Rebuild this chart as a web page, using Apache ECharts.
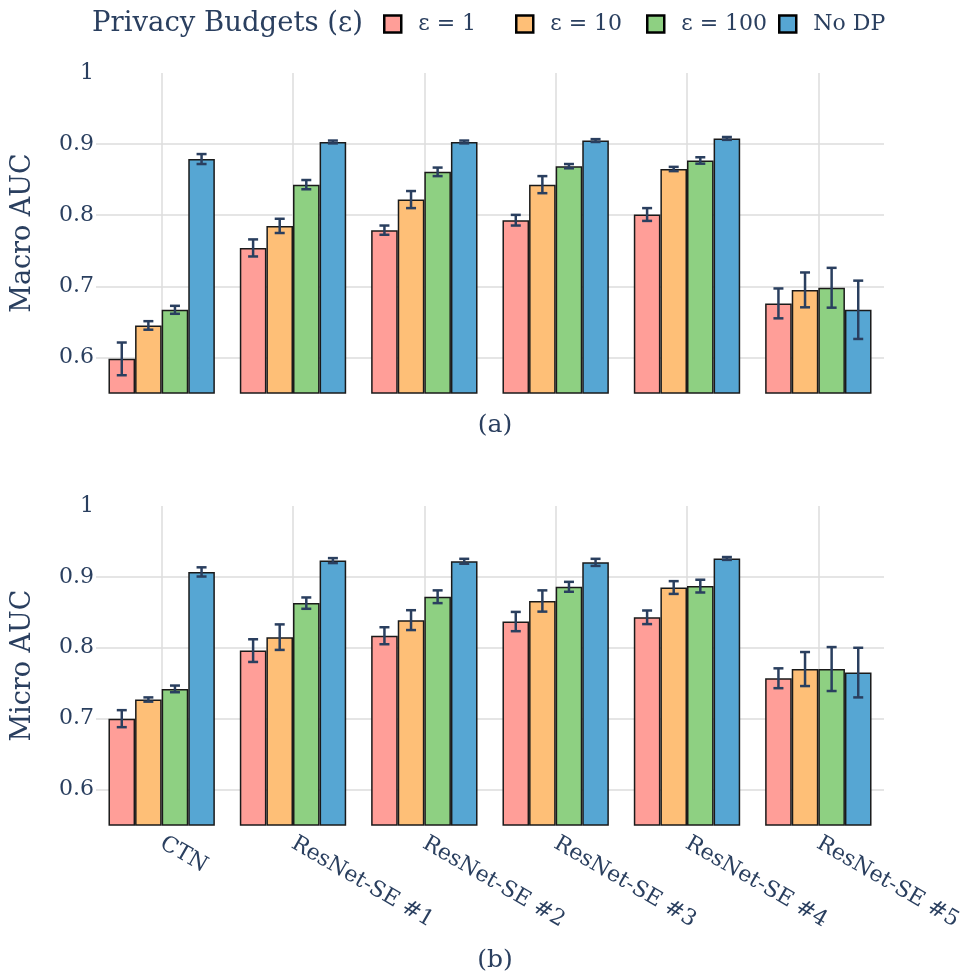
<!DOCTYPE html>
<html><head><meta charset="utf-8">
<script src="https://cdn.jsdelivr.net/npm/echarts@6/dist/echarts.min.js"></script>
<style>html,body{margin:0;padding:0;background:#fff}#c{width:960px;height:974px}</style>
</head><body><div id="c"></div>
<script>
const categories = ['CTN', 'ResNet-SE #1', 'ResNet-SE #2', 'ResNet-SE #3', 'ResNet-SE #4', 'ResNet-SE #5'];
const seriesNames = ['ε = 1', 'ε = 10', 'ε = 100', 'No DP'];
const colors = ['#FF9E98', '#FEBF77', '#8ED082', '#56A6D3'];
const yTicks = [0.6, 0.7, 0.8, 0.9, 1];

// Macro AUC (a)
const macroEps1 = [0.598, 0.754, 0.779, 0.793, 0.801, 0.676];
const macroEps10 = [0.645, 0.785, 0.822, 0.843, 0.865, 0.695];
const macroEps100 = [0.667, 0.843, 0.861, 0.869, 0.877, 0.698];
const macroNoDP = [0.879, 0.903, 0.903, 0.905, 0.908, 0.667];
const macroEps1Err = [0.023, 0.012, 0.0065, 0.0075, 0.009, 0.021];
const macroEps10Err = [0.006, 0.010, 0.012, 0.012, 0.003, 0.0245];
const macroEps100Err = [0.0056, 0.0065, 0.006, 0.003, 0.0045, 0.028];
const macroNoDPErr = [0.007, 0.002, 0.002, 0.002, 0.002, 0.041];

// Micro AUC (b)
const microEps1 = [0.700, 0.796, 0.817, 0.837, 0.843, 0.757];
const microEps10 = [0.727, 0.815, 0.839, 0.866, 0.885, 0.770];
const microEps100 = [0.742, 0.863, 0.872, 0.886, 0.887, 0.770];
const microNoDP = [0.907, 0.923, 0.922, 0.9205, 0.926, 0.765];
const microEps1Err = [0.012, 0.016, 0.012, 0.0136, 0.0096, 0.014];
const microEps10Err = [0.003, 0.018, 0.014, 0.015, 0.009, 0.024];
const microEps100Err = [0.0047, 0.008, 0.009, 0.007, 0.009, 0.031];
const microNoDPErr = [0.0065, 0.0035, 0.0035, 0.005, 0.002, 0.035];

const macroVals = [macroEps1, macroEps10, macroEps100, macroNoDP];
const macroErrs = [macroEps1Err, macroEps10Err, macroEps100Err, macroNoDPErr];
const microVals = [microEps1, microEps10, microEps100, microNoDP];
const microErrs = [microEps1Err, microEps10Err, microEps100Err, microNoDPErr];

const FONT = 'DejaVu Serif';
const TXT = '#2a3f5f';
const GRID = '#dcdcdc';
const CAT_GAP = 0.19;

function errRenderer(k) {
  return function (params, api) {
    const xi = api.value(0), v = api.value(1), e = api.value(2);
    const band = api.size([1, 0])[0];
    const bw = band * (1 - CAT_GAP) / 4;
    const cx = api.coord([xi, v])[0] + (k - 1.5) * bw;
    const top = api.coord([xi, v + e])[1];
    const bot = api.coord([xi, v - e])[1];
    const cap = 5;
    const st = { stroke: TXT, lineWidth: 2.5 };
    return {
      type: 'group', children: [
        { type: 'line', shape: { x1: cx, y1: top, x2: cx, y2: bot }, style: st },
        { type: 'line', shape: { x1: cx - cap, y1: top, x2: cx + cap, y2: top }, style: st },
        { type: 'line', shape: { x1: cx - cap, y1: bot, x2: cx + cap, y2: bot }, style: st }
      ]
    };
  };
}

const series = [];
[[macroVals, macroErrs], [microVals, microErrs]].forEach(function (pair, gi) {
  const vals = pair[0], errs = pair[1];
  seriesNames.forEach(function (name, k) {
    series.push({
      type: 'bar', name: name, xAxisIndex: gi, yAxisIndex: gi,
      data: vals[k], barGap: '0%', barCategoryGap: (CAT_GAP * 100) + '%',
      itemStyle: { color: colors[k], borderColor: '#1a1a1a', borderWidth: 1.5 },
      emphasis: { disabled: true }, z: 2
    });
  });
  seriesNames.forEach(function (name, k) {
    series.push({
      type: 'custom', name: name + ' err', xAxisIndex: gi, yAxisIndex: gi,
      renderItem: errRenderer(k), encode: { x: 0, y: 1 },
      data: vals[k].map(function (v, i) { return [i, v, errs[k][i]]; }),
      z: 5, silent: true
    });
  });
});

function xAxis(gi, showLabels) {
  return {
    type: 'category', gridIndex: gi, data: categories,
    axisLine: { show: false }, axisTick: { show: false },
    splitLine: { show: true, alignWithLabel: true, lineStyle: { color: GRID, width: 1.5 } },
    axisLabel: {
      show: showLabels, interval: 0, rotate: -30, margin: 17,
      fontFamily: FONT, fontSize: 22, color: TXT
    }
  };
}
function yAxis(gi, name) {
  return {
    type: 'value', gridIndex: gi, min: 0.55, max: 1,
    name: name, nameLocation: 'middle', nameGap: 60,
    nameTextStyle: { fontFamily: FONT, fontSize: 27, color: TXT },
    axisLine: { show: false }, axisTick: { show: false, customValues: yTicks },
    axisLabel: { customValues: yTicks, margin: 2, fontFamily: FONT, fontSize: 22, color: TXT },
    splitLine: { show: true, showMaxLine: false, lineStyle: { color: GRID, width: 1.5 } }
  };
}

const legends = [383, 515, 646, 778].map(function (left, k) {
  return {
    left: left, top: 13, padding: 0, itemWidth: 17, itemHeight: 17,
    data: [seriesNames[k]], icon: 'rect', selectedMode: false,
    itemStyle: { borderColor: '#000', borderWidth: 2.5 },
    textStyle: { fontFamily: FONT, fontSize: 22, color: TXT, padding: [0, 0, 0, 12] }
  };
});

const chart = echarts.init(document.getElementById('c'), null, { renderer: 'canvas' });
chart.setOption({
  animation: false,
  backgroundColor: '#fff',
  title: [
    { text: 'Privacy Budgets (ε)', left: 87, top: 5, textStyle: { fontFamily: FONT, fontSize: 27.5, fontWeight: 'normal', color: TXT } },
    { text: '(a)', left: 490, top: 408, textAlign: 'center', textStyle: { fontFamily: FONT, fontSize: 25, fontWeight: 'normal', color: TXT } },
    { text: '(b)', left: 490, top: 943, textAlign: 'center', textStyle: { fontFamily: FONT, fontSize: 25, fontWeight: 'normal', color: TXT } }
  ],
  legend: legends,
  grid: [
    { left: 96, width: 788, top: 73, height: 320, outerBoundsMode: 'none', containLabel: false },
    { left: 96, width: 788, top: 506, height: 319, outerBoundsMode: 'none', containLabel: false }
  ],
  xAxis: [xAxis(0, false), xAxis(1, true)],
  yAxis: [yAxis(0, 'Macro AUC'), yAxis(1, 'Micro AUC')],
  series: series
});
</script>
</body></html>
